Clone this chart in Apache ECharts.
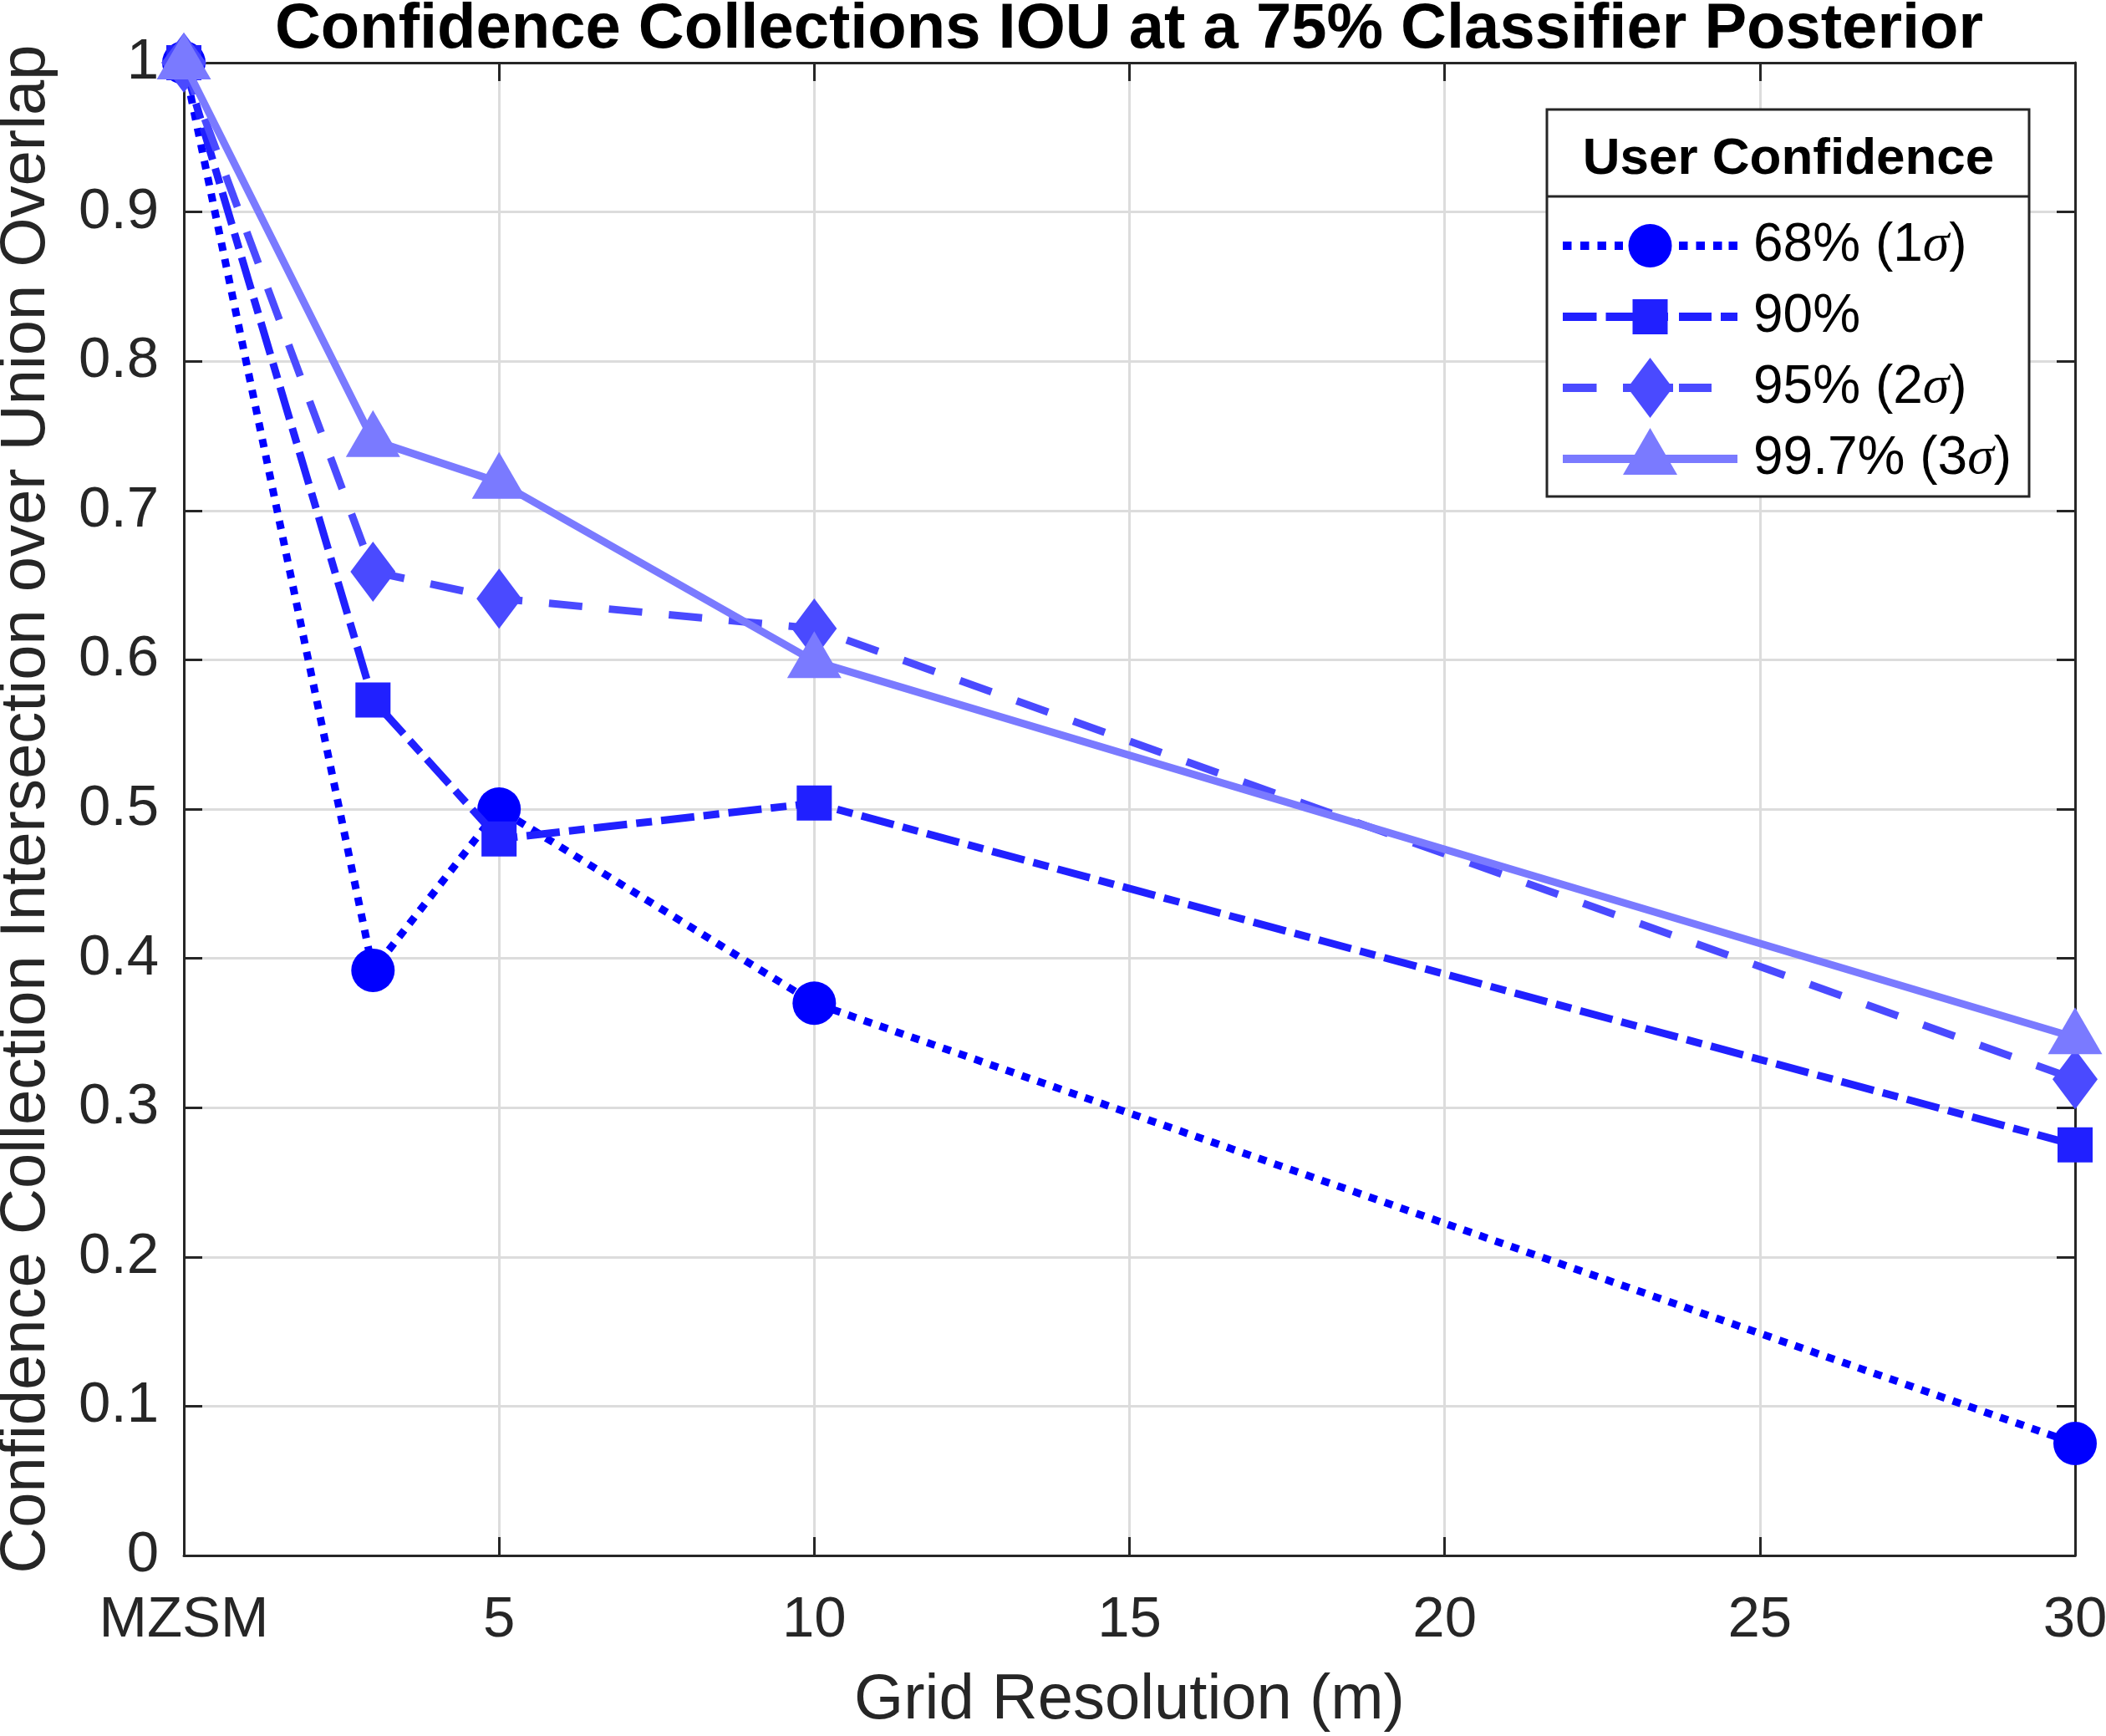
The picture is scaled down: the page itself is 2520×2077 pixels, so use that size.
<!DOCTYPE html>
<html>
<head>
<meta charset="utf-8">
<script src="https://cdn.jsdelivr.net/npm/echarts@6/dist/echarts.min.js"></script>
<style>
  html, body { margin: 0; padding: 0; background: #fff; }
  #main { width: 2520px; height: 2077px; }
</style>
</head>
<body>
<div id="main"></div>
<script>
// data
var resolution = [0, 3, 5, 10, 30];
var iou68 = [1.0, 0.392, 0.500, 0.370, 0.075];
var iou90 = [1.0, 0.573, 0.480, 0.504, 0.275];
var iou95 = [1.0, 0.659, 0.641, 0.621, 0.319];
var iou997 = [1.0, 0.747, 0.719, 0.599, 0.347];
var seriesNames = ['68% (1σ)', '90%', '95% (2σ)', '99.7% (3σ)'];
var xTickLabels = ['MZSM', '5', '10', '15', '20', '25', '30'];

var FONT = '"Liberation Sans", Arial, Helvetica, sans-serif';
var AXIS = '#262626';
var colors = ['#0000ff', '#2020ff', '#4a4aff', '#7a7aff'];

var chart = echarts.init(document.getElementById('main'));

// legend icons: line sample (as filled bars) plus marker, 209 x 76 box
var IW = 209, IH = 76, C = 38, MX = 104.5;
function bars(segs) {
  var s = 'M0 0M' + IW + ' ' + IH;
  segs.forEach(function (g) {
    s += 'M' + g[0] + ' ' + (C - 5) + 'L' + g[1] + ' ' + (C - 5) +
      'L' + g[1] + ' ' + (C + 5) + 'L' + g[0] + ' ' + (C + 5) + 'Z';
  });
  return s;
}
var circleIcon = 'M' + (MX - 26) + ' ' + C + 'A26 26 0 1 1 ' + (MX + 26) + ' ' + C +
  'A26 26 0 1 1 ' + (MX - 26) + ' ' + C + 'Z';
var squareIcon = 'M' + (MX - 21) + ' ' + (C - 21) + 'L' + (MX + 21) + ' ' + (C - 21) +
  'L' + (MX + 21) + ' ' + (C + 21) + 'L' + (MX - 21) + ' ' + (C + 21) + 'Z';
var diamondIcon = 'M' + MX + ' ' + (C - 36) + 'L' + (MX + 27) + ' ' + C +
  'L' + MX + ' ' + (C + 36) + 'L' + (MX - 27) + ' ' + C + 'Z';
var triangleIcon = 'M' + MX + ' ' + (C - 37) + 'L' + (MX + 32.5) + ' ' + (C + 19) +
  'L' + (MX - 32.5) + ' ' + (C + 19) + 'Z';

var icons = [
  'path://' + bars([[0, 10.5], [21, 31.5], [41.5, 52], [62, 72], [139, 149.5], [159.5, 170], [180, 190.5], [198.5, 209]]) + circleIcon,
  'path://' + bars([[0, 40.5], [51.5, 126], [139, 178], [189, 209]]) + squareIcon,
  'path://' + bars([[0, 40.5], [72, 132], [139, 178]]) + diamondIcon,
  'path://' + bars([[0, 209]]) + triangleIcon
];

function pairs(ys) {
  return resolution.map(function (x, i) { return [x, ys[i]]; });
}

var styles = [
  { data: iou68, symbol: 'circle', size: 52, offset: [0, 0], dash: [10, 10] },
  { data: iou90, symbol: 'rect', size: 42, offset: [0, 0], dash: [40, 11, 19, 11] },
  { data: iou95, symbol: 'diamond', size: [54, 72], offset: [0, 0], dash: [40, 32] },
  { data: iou997, symbol: 'triangle', size: [65, 56], offset: [0, -8], dash: 'solid' }
];

var series = styles.map(function (s, i) {
  return {
    name: seriesNames[i],
    type: 'line',
    data: pairs(s.data),
    symbol: s.symbol,
    symbolSize: s.size,
    symbolOffset: s.offset,
    clip: false,
    z: 2 + i,
    lineStyle: { color: colors[i], width: 9, type: s.dash, cap: 'butt' },
    itemStyle: { color: colors[i], borderWidth: 0 },
    emphasis: { disabled: true }
  };
});

var axisLine = { show: true, onZero: false, lineStyle: { color: AXIS, width: 3 } };
var axisTick = { show: true, inside: true, length: 22, lineStyle: { color: AXIS, width: 3 } };
var grid = { show: true, lineStyle: { color: '#dcdcdc', width: 3 } };

var option = {
  animation: false,
  backgroundColor: '#fff',
  title: {
    text: 'Confidence Collections IOU at a 75% Classifier Posterior',
    left: 1351,
    top: -2,
    textAlign: 'center',
    padding: 0,
    textStyle: { fontSize: 76, fontWeight: 'bold', color: '#000', fontFamily: FONT }
  },
  grid: { left: 220, right: 37, top: 75, bottom: 216, containLabel: false, outerBoundsMode: 'none' },
  xAxis: [{
    type: 'value', min: 0, max: 30, interval: 5, position: 'bottom',
    axisLine: axisLine, axisTick: axisTick, splitLine: grid,
    axisLabel: {
      margin: 43, fontSize: 69, color: AXIS, fontFamily: FONT,
      formatter: function (v) { return xTickLabels[Math.round(v / 5)]; }
    },
    name: 'Grid Resolution (m)', nameLocation: 'middle', nameGap: 136,
    nameTextStyle: { fontSize: 76, color: AXIS, fontFamily: FONT }
  }, {
    type: 'value', min: 0, max: 30, interval: 5, position: 'top',
    axisLine: axisLine, axisTick: axisTick,
    axisLabel: { show: false }, splitLine: { show: false }
  }],
  yAxis: [{
    type: 'value', min: 0, max: 1, interval: 0.1, position: 'left',
    axisLine: axisLine, axisTick: axisTick, splitLine: grid,
    axisLabel: { margin: 30, fontSize: 69, color: AXIS, fontFamily: FONT },
    name: 'Confidence Collection Intersection over Union Overlap',
    nameLocation: 'middle', nameGap: 150,
    nameTextStyle: { fontSize: 76, color: AXIS, fontFamily: FONT }
  }, {
    type: 'value', min: 0, max: 1, interval: 0.1, position: 'right',
    axisLine: axisLine, axisTick: axisTick,
    axisLabel: { show: false }, splitLine: { show: false }
  }],
  legend: {
    orient: 'vertical',
    left: 1870,
    top: 256,
    padding: 0,
    itemWidth: IW,
    itemHeight: IH,
    itemGap: 9,
    z: 7,
    selectedMode: false,
    data: seriesNames.map(function (n, i) { return { name: n, icon: icons[i] }; }),
    formatter: function (name) { return name.replace('σ', '{s|σ}'); },
    textStyle: {
      fontSize: 64, color: '#000', fontFamily: FONT, lineHeight: 70,
      padding: [0, 0, 0, 14],
      rich: { s: { fontSize: 64, fontStyle: 'italic', fontFamily: '"Liberation Serif", "DejaVu Serif", serif', lineHeight: 70 } }
    }
  },
  graphic: [
    { type: 'rect', z: 6, shape: { x: 1851, y: 131, width: 577, height: 463 },
      style: { fill: '#fff', stroke: AXIS, lineWidth: 3 } },
    { type: 'line', z: 6, shape: { x1: 1851, y1: 235, x2: 2428, y2: 235 },
      style: { stroke: AXIS, lineWidth: 3 } },
    { type: 'text', z: 6, x: 2140, y: 191,
      style: { text: 'User Confidence', fontSize: 62, fontWeight: 'bold', fontFamily: FONT,
        fill: '#000', align: 'center', verticalAlign: 'middle' } }
  ],
  series: series
};

chart.setOption(option);
</script>
</body>
</html>
